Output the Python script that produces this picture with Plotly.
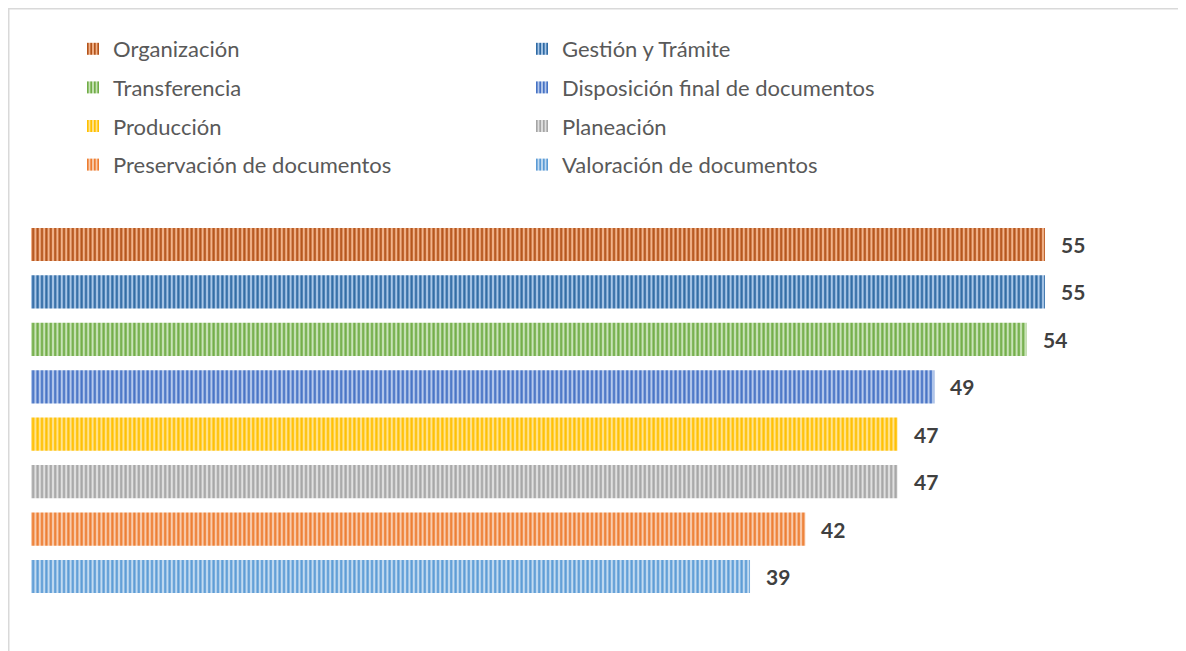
import plotly.graph_objects as go

categories = ["Organización", "Gestión y Trámite", "Transferencia", "Disposición final de documentos",
              "Producción", "Planeación", "Preservación de documentos", "Valoración de documentos"]
values = [55, 55, 54, 49, 47, 47, 42, 39]
dark_colors = ["#B3531A", "#2F6AA3", "#71AD47", "#4672C4", "#FFC000", "#A5A5A5", "#ED7D31", "#5B9BD5"]
light_colors = ["#F2B48C", "#A9C7E8", "#C9E3B8", "#B6C9EC", "#FFE391", "#E0E0E0", "#F9CCAE", "#C3DBF1"]

OFF = 8  # page body margin
W, H = 1186 - OFF, 651 - OFF
fig = go.Figure()
for i, (cat, val) in enumerate(zip(categories, values)):
    fig.add_trace(go.Bar(
        x=[val], y=[cat], orientation="h", name=cat,
        marker=dict(color=light_colors[i], line=dict(width=0),
                    pattern=dict(shape="|", fgcolor=dark_colors[i], bgcolor=light_colors[i],
                                 fgopacity=1, size=4.4, solidity=0.5, fillmode="overlay")),
        legend="legend" if i % 2 == 0 else "legend2",
        legendgroup=cat, showlegend=True, hoverinfo="skip",
    ))
    fig.add_annotation(x=val, y=cat, text="<b>%d</b>" % val, showarrow=False,
                       xanchor="left", xshift=14, font=dict(family="Lato", size=21, color="#404040"))

x0px = 31 - OFF
pxu = (1045 - 31) / 55.0
xmax = (W - x0px) / pxu
top_px, bot_px = 220.8 - OFF, 600.2 - OFF

leg_font = dict(family="Lato", size=22, color="#595959")
fig.update_layout(
    width=W, height=H, margin=dict(l=0, r=0, t=0, b=0),
    paper_bgcolor="white", plot_bgcolor="white",
    barmode="overlay", bargap=0.3,
    xaxis=dict(domain=[x0px / W, 1], range=[0, xmax], visible=False, fixedrange=True),
    yaxis=dict(domain=[1 - bot_px / H, 1 - top_px / H], autorange="reversed", visible=False,
               categoryorder="array", categoryarray=categories),
    font=dict(family="Lato", color="#595959"),
    legend=dict(x=65 / W, y=1 - 20 / H, xanchor="left", yanchor="top", orientation="v",
                font=leg_font, tracegroupgap=7, bgcolor="rgba(0,0,0,0)"),
    legend2=dict(x=514 / W, y=1 - 20 / H, xanchor="left", yanchor="top", orientation="v",
                 font=leg_font, tracegroupgap=7, bgcolor="rgba(0,0,0,0)"),
    shapes=[dict(type="rect", xref="paper", yref="paper", x0=0.75 / W, x1=1.05,
                 y0=-0.05, y1=1 - 0.75 / H, line=dict(color="#D9D9D9", width=1.5),
                 fillcolor="rgba(0,0,0,0)", layer="below")],
)

fig.write_html("out.html")
